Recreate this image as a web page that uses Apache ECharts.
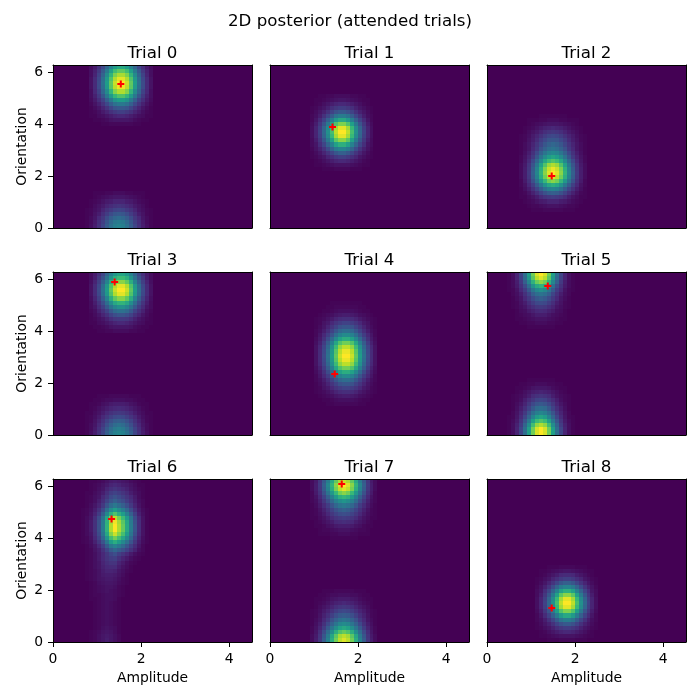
<!DOCTYPE html>
<html>
<head>
<meta charset="utf-8">
<style>html,body{margin:0;padding:0;background:#fff}#c{width:700px;height:700px}</style>
<script src="https://cdn.jsdelivr.net/npm/echarts@6/dist/echarts.min.js"></script>
</head>
<body>
<div id="c"></div>
<script>
// Grid: 50 amplitude columns x 40 orientation rows. Each listed row is
// [rowFromTop, firstColumn, ...cellValues]; unlisted cells read as 0.
const trial0 = [
[0,9,3,7,14,22,33,45,55,60,60,55,45,33,22,14,7,3],
[1,9,4,9,17,28,41,56,69,75,75,69,56,41,28,17,9,4],
[2,9,4,10,20,32,48,65,80,87,87,80,65,48,32,20,10,4],
[3,9,5,12,22,36,53,72,88,96,96,88,72,53,36,22,12,5],
[4,9,5,12,23,37,55,75,92,100,100,92,75,55,37,23,12,5],
[5,9,5,12,23,36,54,74,90,98,98,90,74,54,36,23,12,5],
[6,9,4,11,20,33,48,66,81,88,88,81,66,48,33,20,11,4],
[7,9,4,9,17,27,40,54,66,72,72,66,54,40,27,17,9,4],
[8,9,3,7,13,20,30,41,51,55,55,51,41,30,20,13,7,3],
[9,9,2,5,9,15,22,30,37,40,40,37,30,22,15,9,5,2],
[10,9,1,3,6,10,15,21,26,28,28,26,21,15,10,6,3,1],
[11,9,1,2,4,7,10,14,17,19,19,17,14,10,7,4,2,1],
[12,9,1,1,3,4,6,8,10,11,11,10,8,6,4,3,1,1],
[13,9,0,1,1,2,3,5,6,6,6,6,5,3,2,1,1,0],
[14,9,0,0,0,1,1,2,2,2,2,2,2,1,1,0,0,0],
[31,8,0,0,1,1,1,2,2,3,3,3,2,2,1,1,1,0,0],
[32,8,0,0,1,2,3,4,5,6,6,6,5,4,3,2,1,0,0],
[33,8,0,1,2,3,5,7,8,10,10,10,8,7,5,3,2,1,0],
[34,8,0,1,3,5,7,10,12,14,15,14,12,10,7,5,3,1,0],
[35,8,1,2,4,6,10,14,17,20,21,20,17,14,10,6,4,2,1],
[36,8,1,2,5,8,13,18,23,27,28,27,23,18,13,8,5,2,1],
[37,8,1,3,6,11,16,23,29,33,35,33,29,23,16,11,6,3,1],
[38,8,1,3,7,13,19,27,34,40,42,40,34,27,19,13,7,3,1],
[39,8,1,4,8,14,21,29,37,43,45,43,37,29,21,14,8,4,1]
];
const trial1 = [
[7,10,0,0,1,1,2,2,3,3,3,3,2,2,1,1,0,0],
[8,10,0,1,1,2,3,4,5,6,6,5,4,3,2,1,1,0],
[9,10,0,1,2,4,6,8,10,11,11,10,8,6,4,2,1,0],
[10,10,1,2,4,6,9,13,16,18,18,16,13,9,6,4,2,1],
[11,10,1,3,6,9,14,20,25,28,28,25,20,14,9,6,3,1],
[12,10,2,4,8,14,21,29,38,42,42,38,29,21,14,8,4,2],
[13,10,2,6,12,20,30,42,54,60,60,54,42,30,20,12,6,2],
[14,10,3,8,16,26,40,56,72,80,80,72,56,40,26,16,8,3],
[15,10,4,10,19,32,48,67,86,96,96,86,67,48,32,19,10,4],
[16,10,4,10,20,33,50,70,90,100,100,90,70,50,33,20,10,4],
[17,10,4,10,19,32,48,67,86,96,96,86,67,48,32,19,10,4],
[18,10,3,8,16,27,41,57,74,82,82,74,57,41,27,16,8,3],
[19,10,3,6,13,21,32,44,57,63,63,57,44,32,21,13,6,3],
[20,10,2,5,9,15,23,32,41,45,45,41,32,23,15,9,5,2],
[21,10,1,3,6,10,15,21,27,30,30,27,21,15,10,6,3,1],
[22,10,1,2,4,6,10,13,17,19,19,17,13,10,6,4,2,1],
[23,10,0,1,2,4,6,8,10,11,11,10,8,6,4,2,1,0],
[24,10,0,1,1,2,3,4,5,5,5,5,4,3,2,1,1,0],
[25,10,0,0,0,1,1,1,2,2,2,2,1,1,1,0,0,0]
];
const trial2 = [
[12,8,0,0,0,0,0,1,1,1,1,1,1,1,0,0,0,0,0],
[13,8,0,0,1,1,1,2,2,3,3,3,2,2,1,1,1,0,0],
[14,8,0,0,1,2,3,4,5,6,6,6,5,4,3,2,1,0,0],
[15,8,0,1,2,3,5,7,9,10,11,10,9,7,5,3,2,1,0],
[16,8,0,1,3,5,7,10,13,15,16,15,13,10,7,5,3,1,0],
[17,8,1,2,4,7,10,14,18,21,22,21,18,14,10,7,4,2,1],
[18,8,1,2,5,8,12,18,22,26,27,26,22,18,12,8,5,2,1],
[19,8,1,3,6,10,15,21,27,31,33,31,27,21,15,10,6,3,1],
[20,8,1,3,6,11,17,25,31,36,38,36,31,25,17,11,6,3,1],
[21,8,1,4,8,14,22,31,39,45,47,45,39,31,22,14,8,4,1],
[22,8,2,5,10,17,27,38,48,55,58,55,48,38,27,17,10,5,2],
[23,8,2,6,12,22,33,47,59,68,72,68,59,47,33,22,12,6,2],
[24,8,3,7,15,26,40,57,72,84,88,84,72,57,40,26,15,7,3],
[25,8,3,8,16,29,45,63,80,92,97,92,80,63,45,29,16,8,3],
[26,8,3,8,17,30,46,65,82,95,100,95,82,65,46,30,17,8,3],
[27,8,3,8,16,29,44,62,78,90,95,90,78,62,44,29,16,8,3],
[28,8,2,7,14,25,38,53,67,78,82,78,67,53,38,25,14,7,2],
[29,8,2,5,11,19,29,40,51,59,62,59,51,40,29,19,11,5,2],
[30,8,1,4,8,14,21,29,37,43,45,43,37,29,21,14,8,4,1],
[31,8,1,2,5,9,14,20,25,29,30,29,25,20,14,9,5,2,1],
[32,8,1,1,3,5,8,12,15,17,18,17,15,12,8,5,3,1,1],
[33,8,0,1,2,3,5,7,8,10,10,10,8,7,5,3,2,1,0],
[34,8,0,0,1,2,2,3,4,5,5,5,4,3,2,2,1,0,0],
[35,8,0,0,0,1,1,1,2,2,2,2,2,1,1,1,0,0,0]
];
const trial3 = [
[0,9,3,7,13,21,32,44,53,58,58,53,44,32,21,13,7,3],
[1,9,3,8,16,25,37,51,63,68,68,63,51,37,25,16,8,3],
[2,9,4,10,19,30,45,62,75,82,82,75,62,45,30,19,10,4],
[3,9,5,12,22,36,53,72,88,96,96,88,72,53,36,22,12,5],
[4,9,5,12,23,37,55,75,92,100,100,92,75,55,37,23,12,5],
[5,9,5,12,22,36,53,72,88,96,96,88,72,53,36,22,12,5],
[6,9,4,10,19,30,45,62,75,82,82,75,62,45,30,19,10,4],
[7,9,3,8,15,24,36,49,60,65,65,60,49,36,24,15,8,3],
[8,9,3,6,12,19,28,38,46,50,50,46,38,28,19,12,6,3],
[9,9,2,4,9,14,20,28,34,37,37,34,28,20,14,9,4,2],
[10,9,1,3,6,10,14,20,24,26,26,24,20,14,10,6,3,1],
[11,9,1,2,4,6,9,13,16,17,17,16,13,9,6,4,2,1],
[12,9,1,1,3,4,6,8,10,11,11,10,8,6,4,3,1,1],
[13,9,0,1,1,2,3,5,6,6,6,6,5,3,2,1,1,0],
[14,9,0,0,1,1,2,2,3,3,3,3,2,2,1,1,0,0],
[30,8,0,0,0,1,1,1,2,2,2,2,2,1,1,1,0,0,0],
[31,8,0,0,1,1,2,3,3,4,4,4,3,3,2,1,1,0,0],
[32,8,0,1,1,2,4,5,7,8,8,8,7,5,4,2,1,1,0],
[33,8,0,1,2,4,6,8,10,11,12,11,10,8,6,4,2,1,0],
[34,8,1,1,3,5,8,11,14,16,17,16,14,11,8,5,3,1,1],
[35,8,1,2,4,7,11,15,19,22,23,22,19,15,11,7,4,2,1],
[36,8,1,2,5,9,14,20,25,29,30,29,25,20,14,9,5,2,1],
[37,8,1,3,6,11,17,24,30,35,37,35,30,24,17,11,6,3,1],
[38,8,1,3,7,13,20,28,35,41,43,41,35,28,20,13,7,3,1],
[39,8,1,4,8,14,21,30,38,44,46,44,38,30,21,14,8,4,1]
];
const trial4 = [
[7,11,0,0,0,0,1,1,1,1,1,1,1,1,0,0,0,0],
[8,11,0,0,0,1,1,2,2,2,2,2,2,1,1,0,0,0],
[9,11,0,0,1,1,2,3,4,4,4,4,3,2,1,1,0,0],
[10,11,0,1,2,3,4,6,7,8,8,7,6,4,3,2,1,0],
[11,11,1,2,3,5,7,10,12,13,13,12,10,7,5,3,2,1],
[12,11,1,2,5,7,11,15,18,20,20,18,15,11,7,5,2,1],
[13,11,1,3,6,10,15,20,25,27,27,25,20,15,10,6,3,1],
[14,11,2,4,8,13,20,27,33,36,36,33,27,20,13,8,4,2],
[15,11,2,6,11,18,26,36,44,48,48,44,36,26,18,11,6,2],
[16,11,3,7,14,23,34,47,57,62,62,57,47,34,23,14,7,3],
[17,11,4,9,18,29,43,59,72,78,78,72,59,43,29,18,9,4],
[18,11,5,11,21,33,50,68,83,90,90,83,68,50,33,21,11,5],
[19,11,5,12,22,36,53,73,89,97,97,89,73,53,36,22,12,5],
[20,11,5,12,23,37,55,75,92,100,100,92,75,55,37,23,12,5],
[21,11,5,12,22,36,53,73,89,97,97,89,73,53,36,22,12,5],
[22,11,5,11,21,33,50,68,83,90,90,83,68,50,33,21,11,5],
[23,11,4,9,18,29,43,59,72,78,78,72,59,43,29,18,9,4],
[24,11,3,7,14,23,34,47,57,62,62,57,47,34,23,14,7,3],
[25,11,2,6,11,18,26,36,44,48,48,44,36,26,18,11,6,2],
[26,11,2,4,8,13,20,27,33,36,36,33,27,20,13,8,4,2],
[27,11,1,3,6,10,15,20,25,27,27,25,20,15,10,6,3,1],
[28,11,1,2,5,7,11,15,18,20,20,18,15,11,7,5,2,1],
[29,11,1,2,3,5,7,10,12,13,13,12,10,7,5,3,2,1],
[30,11,0,1,2,3,4,6,7,8,8,7,6,4,3,2,1,0],
[31,11,0,0,1,1,2,3,4,4,4,4,3,2,1,1,0,0],
[32,11,0,0,0,1,1,2,2,2,2,2,2,1,1,0,0,0]
];
const trial5 = [
[0,5,1,4,10,21,36,56,78,94,100,94,78,56,36,21,10,4,1],
[1,5,1,4,10,20,34,53,74,89,95,89,74,53,34,20,10,4,1],
[2,5,1,3,8,17,30,46,64,77,82,77,64,46,30,17,8,3,1],
[3,5,1,3,7,14,23,36,51,61,65,61,51,36,23,14,7,3,1],
[4,5,1,2,5,11,18,28,39,47,50,47,39,28,18,11,5,2,1],
[5,5,0,2,4,8,14,21,30,36,38,36,30,21,14,8,4,2,0],
[6,5,0,1,3,6,11,17,23,28,30,28,23,17,11,6,3,1,0],
[7,5,0,1,2,5,8,13,18,22,23,22,18,13,8,5,2,1,0],
[8,5,0,1,2,4,6,10,13,16,17,16,13,10,6,4,2,1,0],
[9,5,0,0,1,3,4,7,9,11,12,11,9,7,4,3,1,0,0],
[10,5,0,0,1,2,3,4,6,8,8,8,6,4,3,2,1,0,0],
[11,5,0,0,1,1,2,3,4,5,5,5,4,3,2,1,1,0,0],
[12,5,0,0,0,1,1,2,2,3,3,3,2,2,1,1,0,0,0],
[13,5,0,0,0,0,0,1,1,1,1,1,1,1,0,0,0,0,0],
[26,5,0,0,0,0,0,1,1,1,1,1,1,1,0,0,0,0,0],
[27,5,0,0,0,1,1,2,2,3,3,3,2,2,1,1,0,0,0],
[28,5,0,0,1,1,2,3,5,6,6,6,5,3,2,1,1,0,0],
[29,5,0,0,1,2,4,6,8,9,10,9,8,6,4,2,1,0,0],
[30,5,0,1,2,3,5,8,12,14,15,14,12,8,5,3,2,1,0],
[31,5,0,1,2,4,8,12,16,20,21,20,16,12,8,4,2,1,0],
[32,5,0,1,3,6,10,16,22,26,28,26,22,16,10,6,3,1,0],
[33,5,0,1,4,8,13,20,28,34,36,34,28,20,13,8,4,1,0],
[34,5,0,2,5,10,17,26,36,43,46,43,36,26,17,10,5,2,0],
[35,5,1,2,6,12,21,32,45,55,58,55,45,32,21,12,6,2,1],
[36,5,1,3,7,15,26,40,56,68,72,68,56,40,26,15,7,3,1],
[37,5,1,4,9,18,32,49,69,83,88,83,69,49,32,18,9,4,1],
[38,5,1,4,10,21,36,56,78,94,100,94,78,56,36,21,10,4,1],
[39,5,1,4,10,21,36,56,78,94,100,94,78,56,36,21,10,4,1]
];
const trial6 = [
[0,7,0,0,1,1,2,3,5,7,8,7,6,5,3,2,1,0,0],
[1,7,0,0,1,2,3,5,7,10,11,10,8,7,5,3,1,1,0],
[2,7,0,0,1,2,4,6,10,13,15,13,11,9,6,4,2,1,0],
[3,7,0,1,1,3,5,8,13,18,20,18,15,12,8,5,3,1,0],
[4,7,0,1,2,4,6,11,16,22,25,22,19,15,11,7,3,1,0],
[5,7,0,1,2,4,8,13,20,26,30,26,23,18,13,8,4,2,0],
[6,7,0,1,3,6,10,17,26,35,40,35,30,24,17,10,5,2,0],
[7,7,1,2,4,8,14,23,36,48,55,48,42,33,23,14,7,3,1],
[8,7,1,2,5,10,18,30,47,63,72,63,55,43,30,19,9,4,1],
[9,7,1,3,6,13,23,38,59,79,90,79,68,54,38,23,12,5,1],
[10,7,1,3,7,14,25,41,64,86,98,86,74,59,41,25,13,5,1],
[11,7,1,3,7,14,25,42,65,88,100,88,76,60,42,26,13,5,1],
[12,7,1,3,7,14,25,42,65,88,100,88,76,60,42,26,13,5,1],
[13,7,1,3,6,13,23,39,60,81,92,81,70,55,39,24,12,5,1],
[14,7,1,2,5,11,20,33,51,69,78,69,59,47,33,20,10,4,1],
[15,7,1,2,4,9,16,26,40,55,62,55,47,37,26,16,8,3,1],
[16,7,0,1,3,6,11,19,29,40,45,40,34,27,19,12,6,2,0],
[17,7,0,1,2,5,8,14,21,29,33,29,25,20,14,9,4,2,0],
[18,7,0,1,2,4,7,11,16,21,24,19,15,11,7,4,2,1,0],
[19,7,0,1,2,4,7,11,15,18,19,14,10,7,4,2,1,0,0],
[20,7,0,1,2,4,6,10,13,15,15,10,7,4,2,1,0,0,0],
[21,7,0,1,2,4,6,9,11,12,12,8,5,3,1,0,0,0,0],
[22,7,0,1,2,3,5,8,10,10,9,6,4,2,1,0,0,0,0],
[23,7,0,1,2,3,5,7,8,8,7,5,3,1,0,0,0,0,0],
[24,7,0,1,2,3,5,6,7,7,6,4,2,1,0,0,0,0,0],
[25,7,0,0,1,2,4,5,6,6,5,3,2,1,0,0,0,0,0],
[26,7,0,0,1,2,3,4,5,5,4,2,1,0,0,0,0,0,0],
[27,7,0,0,1,2,3,4,5,4,3,2,1,0,0,0,0,0,0],
[28,7,0,0,1,2,2,3,4,4,3,2,1,0,0,0,0,0,0],
[29,7,0,0,1,1,2,3,4,4,3,1,0,0,0,0,0,0,0],
[30,7,0,0,0,1,2,3,4,3,2,1,0,0,0,0,0,0,0],
[31,7,0,0,0,1,2,3,4,3,2,1,0,0,0,0,0,0,0],
[32,7,0,0,0,1,2,3,4,3,2,1,0,0,0,0,0,0,0],
[33,7,0,0,0,1,2,3,4,3,2,1,0,0,0,0,0,0,0],
[34,7,0,0,0,1,2,3,4,3,2,1,0,0,0,0,0,0,0],
[35,7,0,0,0,1,2,3,4,3,2,1,0,0,0,0,0,0,0],
[36,7,0,0,0,1,2,4,5,4,3,1,0,0,0,0,0,0,0],
[37,7,0,0,1,2,3,5,6,5,3,1,0,0,0,0,0,0,0],
[38,7,0,0,1,2,4,6,7,6,4,2,0,0,0,0,0,0,0],
[39,7,0,0,1,2,4,6,8,6,4,2,0,0,0,0,0,0,0]
];
const trial7 = [
[0,10,3,7,16,28,42,60,75,87,92,87,75,60,42,28,16,7,3],
[1,10,3,8,17,30,46,65,82,95,100,95,82,65,46,30,17,8,3],
[2,10,3,8,16,29,44,62,79,91,96,91,79,62,44,29,16,8,3],
[3,10,2,7,14,25,38,53,67,78,82,78,67,53,38,25,14,7,2],
[4,10,2,5,11,20,30,43,54,63,66,63,54,43,30,20,11,5,2],
[5,10,2,4,9,16,24,34,43,49,52,49,43,34,24,16,9,4,2],
[6,10,1,3,7,12,18,26,33,38,40,38,33,26,18,12,7,3,1],
[7,10,1,2,5,9,14,20,25,29,31,29,25,20,14,9,5,2,1],
[8,10,1,2,4,7,11,16,20,23,24,23,20,16,11,7,4,2,1],
[9,10,1,1,3,5,8,12,15,17,18,17,15,12,8,5,3,1,1],
[10,10,0,1,2,4,6,8,11,12,13,12,11,8,6,4,2,1,0],
[11,10,0,1,1,2,4,5,7,8,8,8,7,5,4,2,1,1,0],
[12,10,0,0,1,2,2,3,4,5,5,5,4,3,2,2,1,0,0],
[13,10,0,0,1,1,1,2,2,3,3,3,2,2,1,1,1,0,0],
[14,10,0,0,0,0,0,1,1,1,1,1,1,1,0,0,0,0,0],
[27,10,0,0,0,1,1,1,2,2,2,2,2,1,1,1,0,0,0],
[28,10,0,0,1,1,2,3,3,4,4,4,3,3,2,1,1,0,0],
[29,10,0,1,1,2,3,5,6,7,7,7,6,5,3,2,1,1,0],
[30,10,0,1,2,3,5,7,9,10,11,10,9,7,5,3,2,1,0],
[31,10,0,1,3,5,7,10,13,15,16,15,13,10,7,5,3,1,0],
[32,10,1,2,4,7,10,14,18,21,22,21,18,14,10,7,4,2,1],
[33,10,1,2,5,9,13,19,24,28,29,28,24,19,13,9,5,2,1],
[34,10,1,3,6,11,17,25,31,36,38,36,31,25,17,11,6,3,1],
[35,10,1,4,8,14,22,31,39,46,48,46,39,31,22,14,8,4,1],
[36,10,2,5,10,18,28,39,49,57,60,57,49,39,28,18,10,5,2],
[37,10,2,6,13,23,35,49,62,72,76,72,62,49,35,23,13,6,2],
[38,10,3,7,15,27,41,59,74,86,90,86,74,59,41,27,15,7,3],
[39,10,3,8,16,29,44,62,78,90,95,90,78,62,44,29,16,8,3]
];
const trial8 = [
[21,12,0,0,0,1,1,1,2,2,2,2,1,1,1,0,0,0],
[22,12,0,1,1,2,3,4,5,6,6,5,4,3,2,1,1,0],
[23,12,0,1,2,4,6,8,11,12,12,11,8,6,4,2,1,0],
[24,12,1,2,4,6,10,13,17,19,19,17,13,10,6,4,2,1],
[25,12,1,3,6,10,15,21,27,30,30,27,21,15,10,6,3,1],
[26,12,2,5,9,15,23,32,41,45,45,41,32,23,15,9,5,2],
[27,12,3,6,13,21,32,44,57,63,63,57,44,32,21,13,6,3],
[28,12,3,8,16,27,41,57,74,82,82,74,57,41,27,16,8,3],
[29,12,4,10,19,32,48,67,86,96,96,86,67,48,32,19,10,4],
[30,12,4,10,20,33,50,70,90,100,100,90,70,50,33,20,10,4],
[31,12,4,10,19,32,48,67,86,96,96,86,67,48,32,19,10,4],
[32,12,3,8,16,26,40,56,72,80,80,72,56,40,26,16,8,3],
[33,12,2,6,12,20,30,42,54,60,60,54,42,30,20,12,6,2],
[34,12,2,4,8,14,21,29,38,42,42,38,29,21,14,8,4,2],
[35,12,1,3,6,9,14,20,25,28,28,25,20,14,9,6,3,1],
[36,12,1,2,4,6,9,13,16,18,18,16,13,9,6,4,2,1],
[37,12,0,1,2,4,6,8,10,11,11,10,8,6,4,2,1,0],
[38,12,0,1,1,2,3,4,5,5,5,5,4,3,2,1,1,0],
[39,12,0,0,0,1,1,1,2,2,2,2,1,1,1,0,0,0]
];
const trialTables = [trial0, trial1, trial2, trial3, trial4, trial5, trial6, trial7, trial8];
const trialTitles = ['Trial 0','Trial 1','Trial 2','Trial 3','Trial 4','Trial 5','Trial 6','Trial 7','Trial 8'];
const markerAmplitude = [1.54, 1.42, 1.47, 1.40, 1.47, 1.38, 1.33, 1.63, 1.47];
const markerOrientation = [5.55, 3.89, 2.00, 5.90, 2.35, 5.74, 4.74, 6.09, 1.31];
const amplitudeTicks = [0, 2, 4];
const orientationTicks = [0, 2, 4, 6];
const amplitudeMax = 4.52;
const orientationMax = 6.283;
const columnCount = 50;
const rowCount = 40;
const viridis = ['#440154','#482878','#3e4989','#31688e','#26828e','#1f9e89','#35b779','#6ece58','#b5de2b','#fde725'];

const panelLefts = [53, 270, 487];
const panelTops = [65, 272, 479];
const panelWidth = 199, panelHeight = 163;
const font = '"DejaVu Sans", sans-serif';
const columnNames = Array.from({length: columnCount}, (_, i) => String(i));
const rowNames = Array.from({length: rowCount}, (_, i) => String(i));

function cellsOf(table) {
  const grid = rowNames.map(() => columnNames.map(() => 0));
  table.forEach(row => {
    const fromTop = row[0], first = row[1];
    row.slice(2).forEach((v, k) => { grid[rowCount - 1 - fromTop][first + k] = v; });
  });
  const cells = [];
  grid.forEach((line, r) => line.forEach((v, c) => cells.push([c, r, v])));
  return cells;
}
function renderCell(params, api) {
  const centre = api.coord([api.value(0), api.value(1)]);
  const size = api.size([1, 1]);
  const x0 = Math.round(centre[0] - size[0] / 2), x1 = Math.round(centre[0] + size[0] / 2);
  const y0 = Math.round(centre[1] - size[1] / 2), y1 = Math.round(centre[1] + size[1] / 2);
  return { type: 'rect', shape: { x: x0, y: y0, width: x1 - x0, height: y1 - y0 },
    style: { fill: api.visual('color') } };
}

const option = {
  animation: false, backgroundColor: '#fff',
  title: [{ text: '2D posterior (attended trials)', left: 345, top: 8, textAlign: 'center',
    textStyle: { fontFamily: font, fontSize: 16.67, fontWeight: 'normal', color: '#000' } }],
  grid: [], xAxis: [], yAxis: [], series: [],
  visualMap: [{ show: false, type: 'continuous', min: 0, max: 100, dimension: 2, seriesIndex: [], inRange: { color: viridis } }]
};
const lineStyle = { color: '#000', width: 1 };
trialTables.forEach((table, i) => {
  const col = i % 3, row = Math.floor(i / 3);
  const gl = panelLefts[col], gt = panelTops[row];
  option.grid.push({ left: gl, top: gt, width: panelWidth, height: panelHeight, containLabel: false });
  option.title.push({ text: trialTitles[i], left: gl + panelWidth / 2 - 5, top: gt - 25, textAlign: 'center',
    textStyle: { fontFamily: font, fontSize: 16.67, fontWeight: 'normal', color: '#000' } });
  const xBase = option.xAxis.length, yBase = option.yAxis.length;
  const showX = row === 2, showY = col === 0;
  option.xAxis.push(
    { type: 'category', gridIndex: i, data: columnNames, show: false },
    { type: 'value', gridIndex: i, position: 'bottom', min: 0, max: amplitudeMax, z: 5,
      name: showX ? 'Amplitude' : '', nameLocation: 'middle', nameGap: 29,
      nameTextStyle: { fontFamily: font, fontSize: 13.9, color: '#000' },
      axisLine: { show: true, onZero: false, lineStyle },
      axisTick: { show: showX, length: 5, lineStyle, customValues: amplitudeTicks },
      axisLabel: { show: showX, margin: 10, fontFamily: font, fontSize: 13.9, color: '#000', customValues: amplitudeTicks },
      splitLine: { show: false } },
    { type: 'value', gridIndex: i, position: 'top', min: 0, max: amplitudeMax, z: 5,
      axisLine: { show: true, onZero: false, lineStyle }, axisTick: { show: false },
      axisLabel: { show: false }, splitLine: { show: false } }
  );
  option.yAxis.push(
    { type: 'category', gridIndex: i, data: rowNames, show: false },
    { type: 'value', gridIndex: i, position: 'left', min: 0, max: orientationMax, z: 5,
      name: showY ? 'Orientation' : '', nameLocation: 'middle', nameGap: 24, nameRotate: 90,
      nameTextStyle: { fontFamily: font, fontSize: 13.9, color: '#000' },
      axisLine: { show: true, onZero: false, lineStyle },
      axisTick: { show: showY, length: 5, lineStyle, customValues: orientationTicks },
      axisLabel: { show: showY, margin: 10, fontFamily: font, fontSize: 13.9, color: '#000', customValues: orientationTicks },
      splitLine: { show: false } },
    { type: 'value', gridIndex: i, position: 'right', min: 0, max: orientationMax, z: 5,
      axisLine: { show: true, onZero: false, lineStyle }, axisTick: { show: false },
      axisLabel: { show: false }, splitLine: { show: false } }
  );
  option.visualMap[0].seriesIndex.push(option.series.length);
  option.series.push({ type: 'custom', xAxisIndex: xBase, yAxisIndex: yBase, data: cellsOf(table),
    renderItem: renderCell, encode: { x: 0, y: 1 }, silent: true, progressive: 0, clip: false });
  option.series.push({ type: 'scatter', xAxisIndex: xBase + 1, yAxisIndex: yBase + 1,
    data: [[markerAmplitude[i], markerOrientation[i]]], z: 4, silent: true,
    symbol: 'path://M2.5,0H4.5V2.5H7V4.5H4.5V7H2.5V4.5H0V2.5H2.5Z', symbolSize: 7,
    itemStyle: { color: '#ff0000', opacity: 1 } });
});
echarts.init(document.getElementById('c'), null, { renderer: 'canvas' }).setOption(option);
</script>
</body>
</html>
